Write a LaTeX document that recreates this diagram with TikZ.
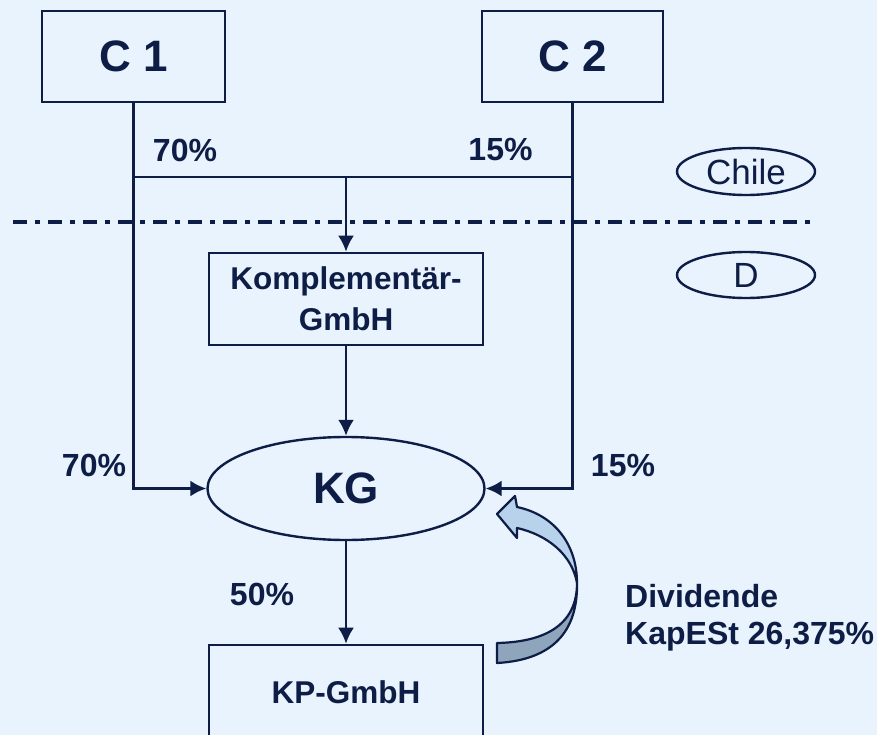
\documentclass[tikz,border=0pt]{standalone}
\usepackage{fontspec}
\setmainfont{Liberation Sans}
\usetikzlibrary{arrows.meta,positioning,shapes.geometric}
\definecolor{Ink}{HTML}{0E1D45}
\definecolor{Paper}{HTML}{E9F3FE}
\definecolor{ArrowLight}{HTML}{B7D2EA}
\definecolor{ArrowDark}{HTML}{8EA5BB}

\begin{document}
\begin{tikzpicture}[x=1pt, y=-1pt, >={Latex[length=16pt,width=16pt]},
  box/.style={draw=Ink, line width=2.6pt, inner sep=0pt, text=Ink, align=center},
  oval/.style={ellipse, draw=Ink, line width=2.4pt, inner sep=0pt, text=Ink},
  big/.style={font=\fontsize{44}{48}\selectfont\bfseries},
  small/.style={font=\fontsize{31.5}{41}\selectfont\bfseries},
  pct/.style={text=Ink, inner sep=0pt, font=\fontsize{32}{37}\selectfont\bfseries},
  link/.style={draw=Ink, line width=2.4pt}]
  \fill[Paper] (0,0) rectangle (877,735);
  \useasboundingbox (0,0) rectangle (877,735);
  \clip (0,0) rectangle (877,735);

  % owners abroad
  \node[box, big, minimum width=183pt, minimum height=91pt] (c1) at (133.5,56.5) {C 1};
  \node[box, big, minimum width=181pt, minimum height=91pt] (c2) at (572.5,56.5) {C 2};
  \node[oval, minimum width=138pt, minimum height=47pt, font=\fontsize{35}{40}\selectfont] (chile) at (746,171.5) {Chile};
  \node[oval, minimum width=138pt, minimum height=46pt, font=\fontsize{35}{40}\selectfont] (de) at (746,275) {D};

  % german entities
  \node[box, small, minimum width=274pt, minimum height=92pt] (komp) at (346,299) {Komplementär-\\GmbH};
  \node[oval, big, minimum width=277pt, minimum height=103pt] (kg) at (346,488.5) {KG};
  \node[box, small, minimum width=274pt, minimum height=94pt] (kp) at (346,692) {KP-GmbH};

  % border line
  \coordinate (borderL) at (13,222);
  \coordinate (borderR) at (811,222);
  \draw[Ink, line width=3.3pt, dash pattern=on 14pt off 8pt on 5pt off 8pt] (borderL) -- (borderR);

  % shares
  \coordinate (split) at (346,177);
  \draw[link] (c1.south |- split) -- (c2.south |- split);
  \draw[link, ->] (split) -- (komp.north);
  \draw[link, ->] (c1.south) |- (kg.west);
  \draw[link, ->] (c2.south) |- (kg.east);
  \draw[link, ->] (komp) -- (kg);
  \draw[link, ->] (kg) -- (kp);

  \node[pct] (p70a) at (185,150) {70\%};
  \node[pct] (p15a) at (500.5,150) {15\%};
  \node[pct] (p70b) at (94,465) {70\%};
  \node[pct] (p15b) at (623,466) {15\%};
  \node[pct] (p50) at (262,594) {50\%};
  \node[pct, anchor=north west, align=left] (div) at (625,584) {Dividende\\KapESt 26,375\%};

  % dividend flow back to KG
  \coordinate (pinch) at (577,583);
  \fill[ArrowDark, draw=Ink, line width=2.2pt, line join=round]
    (pinch) .. controls (577,625) and (545,642) .. (497,643)
    -- (497,663) .. controls (552,660) and (578,632) .. (pinch);
  \fill[ArrowLight, draw=Ink, line width=2.2pt, line join=round]
    (pinch) .. controls (577,545) and (555,515) .. (517,507)
    -- (515,496) -- (497,514) -- (517,538) -- (517,528)
    .. controls (548,535) and (572,555) .. (pinch);
\end{tikzpicture}
\end{document}
